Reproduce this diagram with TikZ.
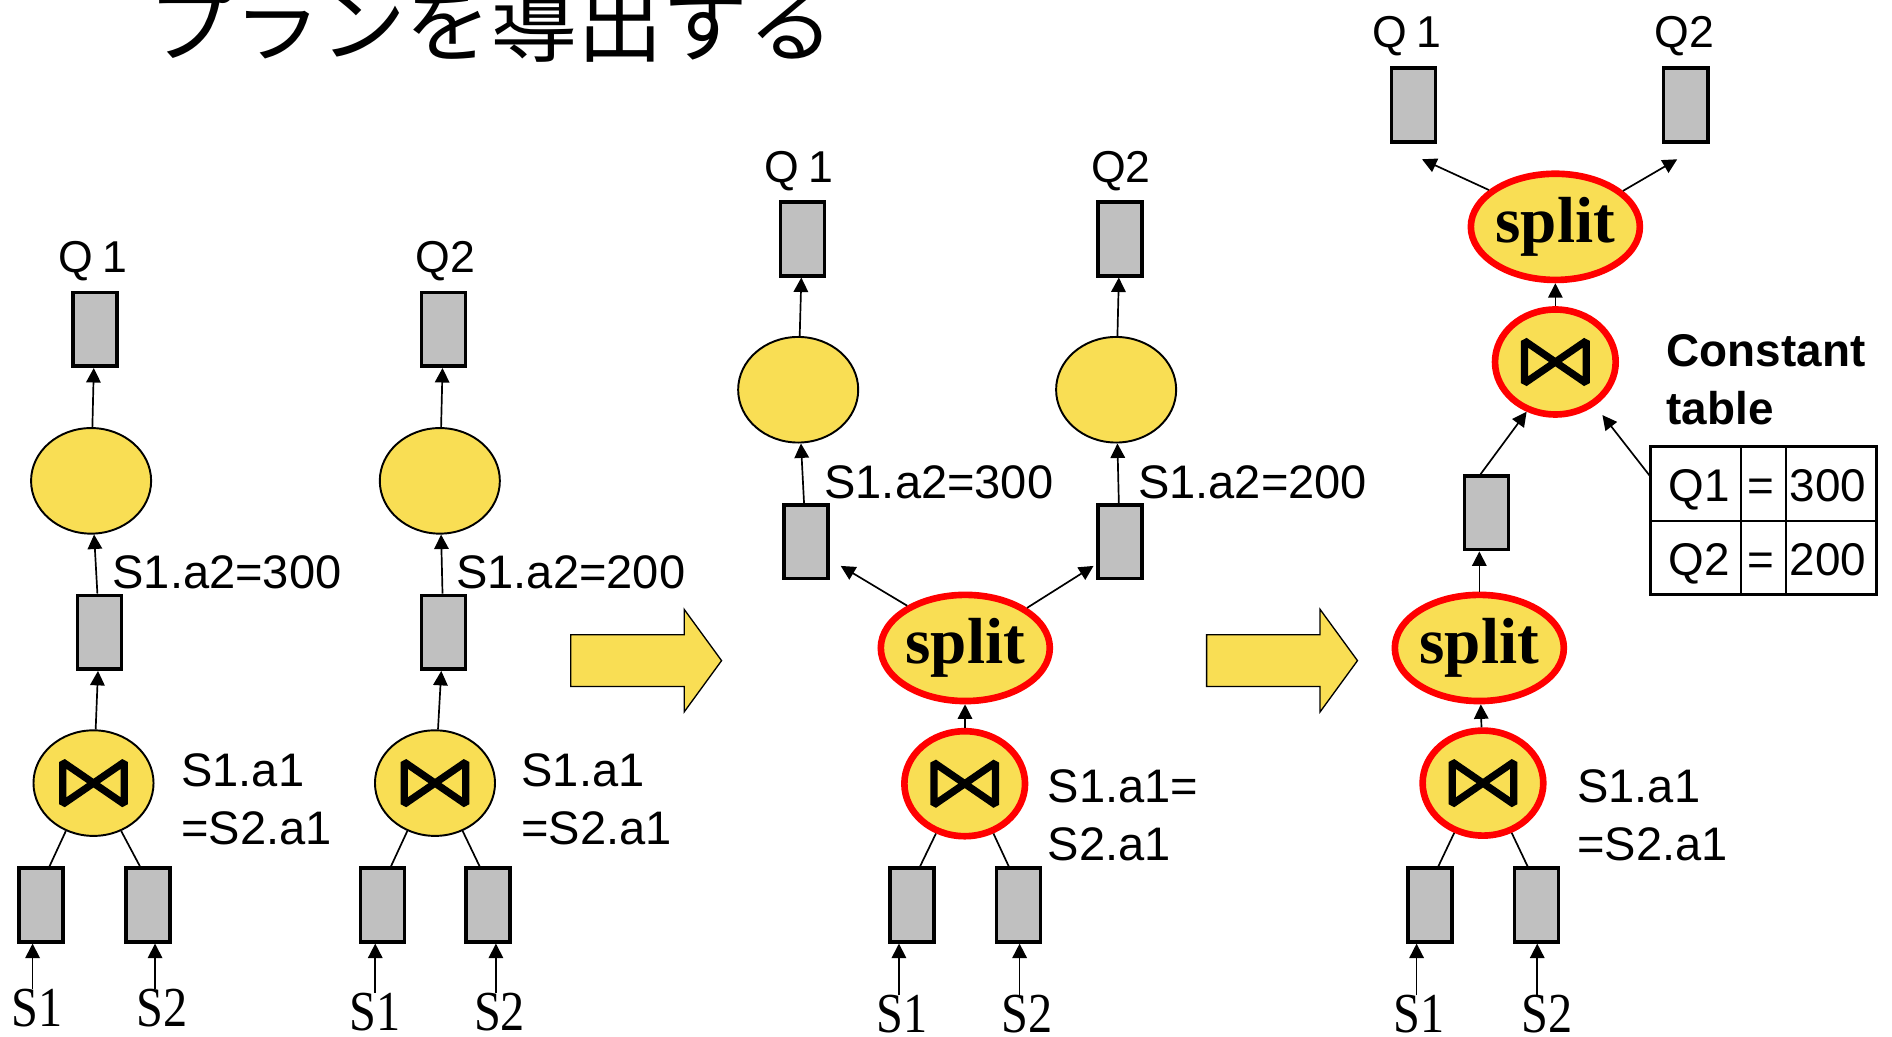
\documentclass[tikz,border=0pt]{standalone}
\usepackage{fontspec}
\setmainfont{Liberation Sans}
\newfontfamily\cjkfont{Noto Sans CJK JP}
\newfontfamily\romanfont{Liberation Serif}
\usetikzlibrary{shapes.geometric,arrows.meta}
\definecolor{opyellow}{RGB}{249,222,84}
\definecolor{opgray}{RGB}{192,192,192}
\definecolor{hotred}{RGB}{255,0,0}
\tikzset{
  tbox/.style={draw, line width=3pt, fill=opgray, minimum width=36.5pt, minimum height=61pt, inner sep=0pt},
  selop/.style={ellipse, draw, line width=1.6pt, fill=opyellow, minimum width=99.5pt, minimum height=87.5pt, inner sep=0pt},
  hotjoin/.style={ellipse, draw=hotred, line width=5.5pt, fill=opyellow, minimum width=100pt, minimum height=87pt, inner sep=0pt},
  splitop/.style={ellipse, draw=hotred, line width=5.5pt, fill=opyellow, minimum width=126pt, minimum height=88pt, inner sep=0pt, font=\romanfont\bfseries\fontsize{54}{54}\selectfont},
  flow/.style={-{Triangle[length=12pt,width=12pt]}, line width=1.4pt},
  link/.style={line width=1.4pt},
  qname/.style={anchor=base, inner sep=0pt, font=\fontsize{37}{37}\selectfont},
  cond/.style={anchor=base west, inner sep=0pt, font=\fontsize{39}{39}\selectfont},
  src/.style={anchor=base, inner sep=0pt, font=\romanfont\fontsize{40}{40}\selectfont},
  bigarrow/.style={draw, fill=opyellow, line width=1.1pt},
  tblbox/.style={draw, line width=2.2pt, minimum width=186.8pt, minimum height=122.8pt, inner sep=0pt},
  cell/.style={anchor=base, inner sep=0pt, font=\fontsize{38}{38}\selectfont},
  bowtie/.pic={\draw[line width=6pt, line join=bevel] (-25.5,-17.5) -- (25.5,17.5) -- (25.5,-17.5) -- (-25.5,17.5) -- cycle;},
}
\newcommand{\tallS}[1]{\scalebox{1}[1.17]{#1}}
\begin{document}
\begin{tikzpicture}[x=1pt,y=-1pt]
\path[fill=white,use as bounding box] (0,0) rectangle (1568,859);

% heading
\node[anchor=base west, inner sep=0pt, font=\cjkfont\fontsize{71}{71}\selectfont] (title) at (123,46) {プランを導出する};

% ---------- separate plans ----------
\node[tbox] (A_q) at (78.5,273) {};
\node[selop] (A_sel) at (75.5,398.5) {};
\node[tbox] (A_mid) at (82.5,524) {};
\node[selop] (A_j) at (77.5,649) {};
\pic at (A_j) {bowtie};
\node[tbox] (A_l) at (34,750) {};
\node[tbox] (A_r) at (122.5,750) {};
\node[qname] (A_Q) at (77,226) {Q\hspace{0.22em}1};
\node[cond] (A_c1) at (93,488) {S1.a2=300};
\node[cond] (A_c2) at (150,652) {S1.a1};
\node[cond] (A_c3) at (150,700) {=S2.a1};
\node[src] (A_s1) at (31,851) {\tallS{S1}};
\node[src] (A_s2) at (134,851) {\tallS{S2}};
\draw[flow] (A_sel) -- (A_q);
\draw[flow] (A_mid) -- (A_sel);
\draw[flow] (A_j) -- (A_mid);
\draw[link] (A_j.240) -- ([xshift=7pt]A_l.north);
\draw[link] (A_j.300) -- ([xshift=-6.5pt]A_r.north);
\coordinate (A_a1) at ([xshift=-7pt]A_l.south);
\coordinate (A_a2) at ([xshift=6pt]A_r.south);
\draw[flow] (A_a1 |- A_s1.north) -- (A_a1);
\draw[flow] (A_a2 |- A_s2.north) -- (A_a2);

\node[tbox] (B_q) at (367.5,273) {};
\node[selop] (B_sel) at (364.5,398.5) {};
\node[tbox] (B_mid) at (367.5,524) {};
\node[selop] (B_j) at (360.5,649) {};
\pic at (B_j) {bowtie};
\node[tbox] (B_l) at (317,750) {};
\node[tbox] (B_r) at (404.5,750) {};
\node[qname] (B_Q) at (369,226) {Q2};
\node[cond] (B_c1) at (378,488) {S1.a2=200};
\node[cond] (B_c2) at (432,652) {S1.a1};
\node[cond] (B_c3) at (432,700) {=S2.a1};
\node[src] (B_s1) at (311,854) {\tallS{S1}};
\node[src] (B_s2) at (414,854) {\tallS{S2}};
\draw[flow] (B_sel) -- (B_q);
\draw[flow] (B_mid) -- (B_sel);
\draw[flow] (B_j) -- (B_mid);
\draw[link] (B_j.240) -- ([xshift=7pt]B_l.north);
\draw[link] (B_j.300) -- ([xshift=-7pt]B_r.north);
\coordinate (B_a1) at ([xshift=-6pt]B_l.south);
\coordinate (B_a2) at ([xshift=6.5pt]B_r.south);
\draw[flow] (B_a1 |- B_s1.north) -- (B_a1);
\draw[flow] (B_a2 |- B_s2.north) -- (B_a2);

% first rewrite step
\path[bigarrow] (473,526) -- (567,526) -- (567,505) -- (598,547.5) -- (567,590) -- (567,569) -- (473,569) -- cycle;

% ---------- shared join, split before selections ----------
\node[tbox] (P_q1) at (665,198) {};
\node[selop] (P_sel1) at (661.5,323) {};
\node[tbox] (P_mid1) at (668,449) {};
\node[tbox] (P_q2) at (928,198) {};
\node[selop] (P_sel2) at (925,323) {};
\node[tbox] (P_mid2) at (928,449) {};
\node[splitop] (P_split) at (800,537) {split};
\node[hotjoin] (P_j) at (799.5,649.5) {};
\pic at (P_j) {bowtie};
\node[tbox] (P_l) at (756,750) {};
\node[tbox] (P_r) at (844,750) {};
\node[qname] (P_Q1) at (662,151) {Q\hspace{0.22em}1};
\node[qname] (P_Q2) at (929,151) {Q2};
\node[cond] (P_c1) at (683,413) {S1.a2=300};
\node[cond] (P_c2) at (943,413) {S1.a2=200};
\node[cond] (P_c3) at (868,665) {S1.a1=};
\node[cond] (P_c4) at (868,713) {S2.a1};
\node[src] (P_s1) at (747.5,856) {\tallS{S1}};
\node[src] (P_s2) at (851,856) {\tallS{S2}};
\draw[flow] (P_sel1) -- (P_q1);
\draw[flow] (P_mid1) -- (P_sel1);
\draw[flow] (P_sel2) -- (P_q2);
\draw[flow] (P_mid2) -- (P_sel2);
\draw[flow] (P_split.144) -- ([shift={(9pt,12pt)}]P_mid1.south east);
\draw[flow] (P_split.33) -- ([shift={(-2pt,12pt)}]P_mid2.south west);
\draw[flow] (P_j) -- (P_split);
\draw[link] (P_j.240) -- ([xshift=6.5pt]P_l.north);
\draw[link] (P_j.300) -- ([xshift=-8pt]P_r.north);
\coordinate (P_a1) at ([xshift=-11pt]P_l.south);
\coordinate (P_a2) at ([xshift=1pt]P_r.south);
\draw[flow] (P_a1 |- P_s1.north) -- (P_a1);
\draw[flow] (P_a2 |- P_s2.north) -- (P_a2);

% second rewrite step
\path[bigarrow] (1000,526) -- (1094,526) -- (1094,505) -- (1125,547.5) -- (1094,590) -- (1094,569) -- (1000,569) -- cycle;

% ---------- selections replaced by a join with a constant table ----------
\node[tbox] (R_q1) at (1171.5,87) {};
\node[tbox] (R_q2) at (1397,87) {};
\node[splitop] (R_split1) at (1289,188) {split};
\node[hotjoin] (R_j1) at (1289,300) {};
\pic at (R_j1) {bowtie};
\node[tbox] (R_mid) at (1232,425) {};
\node[splitop] (R_split2) at (1226,537) {split};
\node[hotjoin] (R_j2) at (1229,649) {};
\pic at (R_j2) {bowtie};
\node[tbox] (R_l) at (1185,750) {};
\node[tbox] (R_r) at (1273.5,750) {};
\node[qname] (R_Q1) at (1166,39) {Q\hspace{0.22em}1};
\node[qname] (R_Q2) at (1396,39) {Q2};
\node[cond] (R_c1) at (1307,665) {S1.a1};
\node[cond] (R_c2) at (1307,713) {=S2.a1};
\node[src] (R_s1) at (1176,856) {\tallS{S1}};
\node[src] (R_s2) at (1282,856) {\tallS{S2}};
\node[cond, font=\bfseries\fontsize{38}{38}\selectfont] (R_k1) at (1381,304) {Constant};
\node[cond, font=\bfseries\fontsize{38}{38}\selectfont] (R_k2) at (1381,352) {table};

% constant table
\node[tblbox] (tbl) at (1461.5,431.5) {};
\draw[line width=1.4pt] (tbl.west) -- (tbl.east);
\draw[line width=1.4pt] ([xshift=-18.5pt]tbl.north) -- ([xshift=-18.5pt]tbl.south);
\draw[line width=1.4pt] ([xshift=18.5pt]tbl.north) -- ([xshift=18.5pt]tbl.south);
\node[cell] (t11) at (1408,416) {Q1};
\node[cell] (t12) at (1459,416) {=};
\node[cell] (t13) at (1515,416) {300};
\node[cell] (t21) at (1408,477) {Q2};
\node[cell] (t22) at (1459,477) {=};
\node[cell] (t23) at (1515,477) {200};

\draw[flow] (R_split1.151) -- ([shift={(7pt,-13pt)}]R_q1.south);
\draw[flow] (R_split1.28) -- ([shift={(-7pt,-13pt)}]R_q2.south);
\draw[flow] (R_j1) -- (R_split1);
\draw[flow] ([xshift=-5pt]R_mid.north) -- (R_j1.240);
\draw[flow] ([yshift=-25pt]tbl.north west) -- ([shift={(39pt,-44pt)}]R_j1.center);
\draw[flow] (R_split2.north) -- (R_split2.north |- R_mid.south);
\draw[flow] (R_j2) -- (R_split2);
\draw[link] (R_j2.240) -- ([xshift=7pt]R_l.north);
\draw[link] (R_j2.300) -- ([xshift=-7.5pt]R_r.north);
\coordinate (R_a1) at ([xshift=-11pt]R_l.south);
\coordinate (R_a2) at ([xshift=0.5pt]R_r.south);
\draw[flow] (R_a1 |- R_s1.north) -- (R_a1);
\draw[flow] (R_a2 |- R_s2.north) -- (R_a2);
\end{tikzpicture}
\end{document}
